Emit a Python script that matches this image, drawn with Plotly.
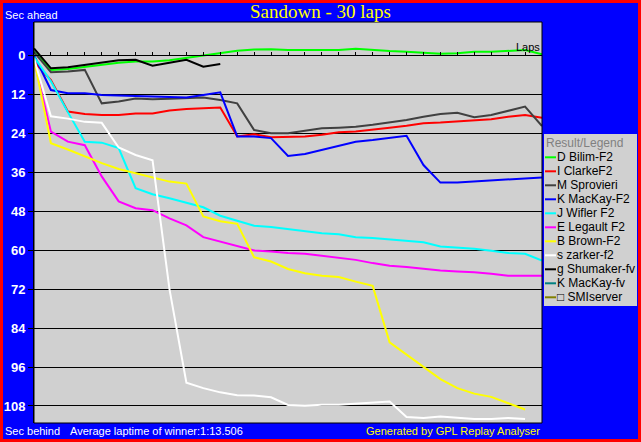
import plotly.graph_objects as go

# ---------------- data ----------------
laps = list(range(31))

drivers = ["D Bilim-F2", "I ClarkeF2", "M Sprovieri", "K MacKay-F2", "J Wifler F2",
           "E Legault F2", "B Brown-F2", "s zarker-f2", "g Shumaker-fv", "K MacKay-fv",
           "\u25a1 SMIserver"]
colors = ["#00FF00", "#FF0000", "#404040", "#0000FF", "#00FFFF",
          "#FF00FF", "#FFFF00", "#FFFFFF", "#000000", "#008080", "#808000"]

bilim = [-1.1, 4.5, 4.2, 3.6, 2.8, 2.3, 1.9, 1.9, 1.5, 0.8, -0.1, -0.8, -1.4, -1.8, -1.9, -1.6,
         -1.6, -1.6, -1.6, -2.0, -1.6, -1.3, -1.1, -0.8, -0.5, -0.6, -1.1, -1.1, -1.3, -1.6, -0.3]
clarke = [2.0, 7.6, 17.3, 18.1, 18.4, 18.4, 17.9, 17.9, 17.0, 16.5, 16.3, 16.1, 25.0, 24.3, 25.2, 25.2,
          25.0, 24.5, 23.7, 23.5, 23.0, 22.3, 21.7, 20.9, 20.7, 20.4, 19.9, 19.7, 18.9, 18.4, 19.2]
sprovieri = [-1.0, 5.2, 5.0, 4.5, 14.8, 14.2, 13.3, 13.5, 13.4, 13.2, 13.0, 13.8, 14.8, 23.0, 24.0, 24.0,
             23.2, 22.5, 22.3, 22.0, 21.4, 20.7, 19.9, 18.9, 18.1, 17.7, 19.1, 18.4, 17.1, 15.8, 21.8]
mackay_f2 = [0.0, 10.7, 11.7, 11.7, 12.2, 12.4, 12.5, 12.7, 13.0, 13.0, 12.2, 11.4, 25.0, 25.0, 25.5, 31.0,
             30.4, 29.1, 27.9, 26.6, 26.1, 25.5, 24.8, 33.8, 39.2, 39.2, 38.9, 38.4, 38.2, 37.9, 37.6]
wifler = [0.5, 8.0, 17.5, 26.6, 26.9, 28.6, 40.9, 42.8, 44.0, 45.5, 46.8, 49.4, 51.0, 52.5, 52.9, 53.5,
          54.1, 54.8, 55.1, 56.0, 56.3, 56.8, 57.3, 57.6, 58.9, 59.2, 59.6, 60.2, 60.9, 61.1, 63.2]
legault = [1.5, 23.5, 26.6, 27.7, 37.3, 45.0, 47.1, 47.7, 50.2, 52.4, 56.0, 57.3, 58.7, 60.1, 60.4, 60.9,
           61.1, 61.8, 62.5, 63.0, 64.0, 64.8, 65.2, 65.8, 66.3, 66.6, 66.8, 67.3, 67.9, 67.9, 67.9]
brown = [1.0, 27.1, 29.0, 31.2, 33.2, 35.0, 36.3, 37.5, 38.9, 39.5, 49.6, 51.1, 51.9, 62.2, 63.5, 65.8,
         67.1, 67.9, 68.3, 69.7, 71.0, 88.4, 92.2, 96.0, 99.7, 102.5, 104.2, 105.2, 107.1, 109.1]
zarker = [1.0, 18.8, 19.5, 20.5, 20.8, 28.4, 30.7, 32.3, 72.0, 100.8, 102.5, 103.8, 104.7, 104.8, 105.3,
          107.7, 107.9, 107.6, 107.6, 107.3, 106.9, 106.6, 111.4, 111.7, 111.2, 111.7, 112.0, 112.0,
          111.7, 112.0]
shumaker = [-2.1, 4.0, 3.7, 3.0, 2.1, 1.5, 1.4, 3.2, 2.3, 1.4, 3.5, 2.7]
mackay_fv = []
smiserver = []

series = [bilim, clarke, sprovieri, mackay_f2, wifler, legault, brown, zarker,
          shumaker, mackay_fv, smiserver]

y_ticks = [0, 12, 24, 36, 48, 60, 72, 84, 96, 108]

title_text = "Sandown - 30 laps"
avg_text = "Average laptime of winner:1:13.506"
credit_text = "Generated by GPL Replay Analyser"

# ---------------- figure ----------------
W, H = 641, 442
ML, MR, MT, MB = 34, 99, 22, 19
PW, PH = W - ML - MR, H - MT - MB
y_range = [113.24, -10.255]
zero_pos = y_range[0] / (y_range[0] - y_range[1])


def px_x(px):
    return (px - ML) / PW


def px_y(py):
    return (H - MB - py) / PH


fig = go.Figure()
for name, col, vals in zip(drivers, colors, series):
    fig.add_trace(go.Scatter(
        x=laps[:len(vals)], y=vals, mode="lines", name=name,
        line=dict(color=col, width=2), showlegend=False, hoverinfo="skip"))

ui_font = "Liberation Sans, Arial, sans-serif"

shapes = [
    # red page border
    dict(type="rect", xref="paper", yref="paper",
         x0=px_x(1.5), x1=px_x(W - 1.5), y0=px_y(H - 1.5), y1=px_y(1.5),
         line=dict(color="#FF0000", width=3), layer="above"),
    # plot frame
    dict(type="rect", xref="paper", yref="paper", x0=0, x1=1, y0=0, y1=1,
         line=dict(color="black", width=1), layer="above"),
    # legend box
    dict(type="rect", xref="paper", yref="paper",
         x0=px_x(544), x1=px_x(637), y0=px_y(306), y1=px_y(134),
         fillcolor="#D0D0D0", line=dict(width=0), layer="above"),
]

annotations = [
    dict(text="Sec ahead", xref="paper", yref="paper", x=px_x(3), y=px_y(15),
         xanchor="left", yanchor="middle", showarrow=False,
         font=dict(family=ui_font, size=11, color="white")),
    dict(text="Sec behind", xref="paper", yref="paper", x=px_x(3), y=px_y(431),
         xanchor="left", yanchor="middle", showarrow=False,
         font=dict(family=ui_font, size=11, color="white")),
    dict(text=avg_text, xref="paper", yref="paper", x=px_x(68), y=px_y(431),
         xanchor="left", yanchor="middle", showarrow=False,
         font=dict(family=ui_font, size=11, color="white")),
    dict(text=credit_text, xref="paper", yref="paper", x=1.0, y=px_y(431),
         xanchor="right", yanchor="middle", showarrow=False,
         font=dict(family=ui_font, size=11, color="#FFFF00")),
    dict(text="Laps", xref="paper", yref="y", x=1.0, y=0, xanchor="right",
         yanchor="bottom", showarrow=False, yshift=0,
         font=dict(family=ui_font, size=11, color="black")),
    dict(text="Result/Legend", xref="paper", yref="paper", x=px_x(544), y=px_y(143),
         xanchor="left", yanchor="middle", showarrow=False,
         font=dict(family=ui_font, size=12, color="#808080")),
]

# custom legend entries (line swatch + label), built from the driver lists
for i, (name, col) in enumerate(zip(drivers, colors)):
    cy = 157.3 + 14 * i
    shapes.append(dict(type="line", xref="paper", yref="paper",
                       x0=px_x(545), x1=px_x(556), y0=px_y(cy), y1=px_y(cy),
                       line=dict(color=col, width=2), layer="above"))
    annotations.append(dict(text=name, xref="paper", yref="paper", x=px_x(555), y=px_y(cy),
                            xanchor="left", yanchor="middle", showarrow=False,
                            font=dict(family=ui_font, size=12, color="black")))

fig.update_layout(
    width=W, height=H,
    margin=dict(l=ML, r=MR, t=MT, b=MB, autoexpand=False),
    paper_bgcolor="#0000FF",
    plot_bgcolor="#D0D0D0",
    showlegend=False,
    title=dict(text=title_text, x=0.5, xref="container", xanchor="center",
               y=1 - 11.5 / H, yref="container", yanchor="middle",
               font=dict(family="Liberation Serif, Times New Roman, serif", size=19,
                         color="#FFFF00")),
    xaxis=dict(range=[0, 30], anchor="free", position=zero_pos, side="bottom",
               showgrid=False, zeroline=False, showticklabels=False,
               ticks="inside", ticklen=3, tickcolor="black", tickwidth=1,
               tick0=0, dtick=1, showline=True, linecolor="black", linewidth=1),
    xaxis2=dict(overlaying="x", matches="x", anchor="free", position=zero_pos,
                side="bottom", showgrid=False, zeroline=False, showticklabels=False,
                ticks="outside", ticklen=2, tickcolor="black", tickwidth=1,
                tick0=0, dtick=1, showline=False),
    yaxis=dict(range=y_range, autorange=False, tickvals=y_ticks,
               ticktext=[str(v) for v in y_ticks],
               showgrid=True, gridcolor="black", gridwidth=1, zeroline=False,
               ticks="outside", ticklen=5, tickcolor="black",
               ticklabelstandoff=0,
               tickfont=dict(family="Liberation Sans", size=13, color="white", weight="bold"),
               showline=True, linecolor="black"),
    shapes=shapes,
    annotations=annotations,
)

fig.write_html(
    "out.html",
    config={"displayModeBar": False, "staticPlot": True},
    post_script="document.body.style.margin='0';document.body.style.overflow='hidden';",
)
